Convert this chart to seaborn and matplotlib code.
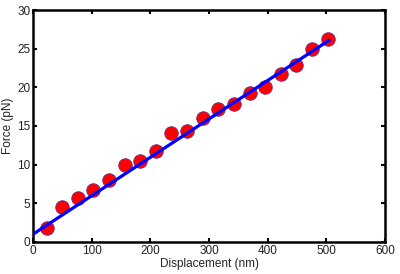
import matplotlib
matplotlib.use("Agg")
import matplotlib.pyplot as plt
import seaborn as sns
import pandas as pd

displacement = [24, 50, 76, 103, 130, 157, 183, 210, 236, 263, 290, 316, 343, 370, 396, 423, 449, 476, 503]
force = [1.85, 4.55, 5.7, 6.7, 8.05, 9.95, 10.5, 11.75, 14.1, 14.4, 16.05, 17.15, 17.85, 19.3, 20.05, 21.7, 22.9, 24.95, 26.3]
fit_x = [0, 505]
fit_y = [1.0, 26.1]

sns.set_theme(style="white")
plt.rcParams['font.family'] = ['Liberation Sans', 'DejaVu Sans']

fig = plt.figure(figsize=(4.0, 2.74), dpi=100)
ax = fig.add_axes([0.0825, 0.117, 0.88, 0.8465])

df = pd.DataFrame({"d": displacement, "f": force})
sns.scatterplot(data=df, x="d", y="f", ax=ax, s=95, color="#ff0000",
                edgecolor="#6a2a8a", linewidth=0.6, zorder=2)
sns.lineplot(x=fit_x, y=fit_y, ax=ax, color="#0000ff", linewidth=2.3, zorder=3)

ax.set_xlim(0, 600)
ax.set_ylim(0, 30)
ax.set_xticks([0, 100, 200, 300, 400, 500, 600])
ax.set_yticks([0, 5, 10, 15, 20, 25, 30])
ax.set_xlabel("Displacement (nm)", fontsize=8.5, labelpad=1, color="#222222")
ax.set_ylabel("Force (pN)", fontsize=8.5, labelpad=2, color="#222222")
ax.tick_params(direction="in", length=3, width=1.5, labelsize=8.5, pad=2,
               top=True, right=True, bottom=True, left=True, colors="black",
               labelcolor="#222222")
for sp in ax.spines.values():
    sp.set_linewidth(1.8)
    sp.set_color("black")

fig.savefig("out.png", dpi=100)
